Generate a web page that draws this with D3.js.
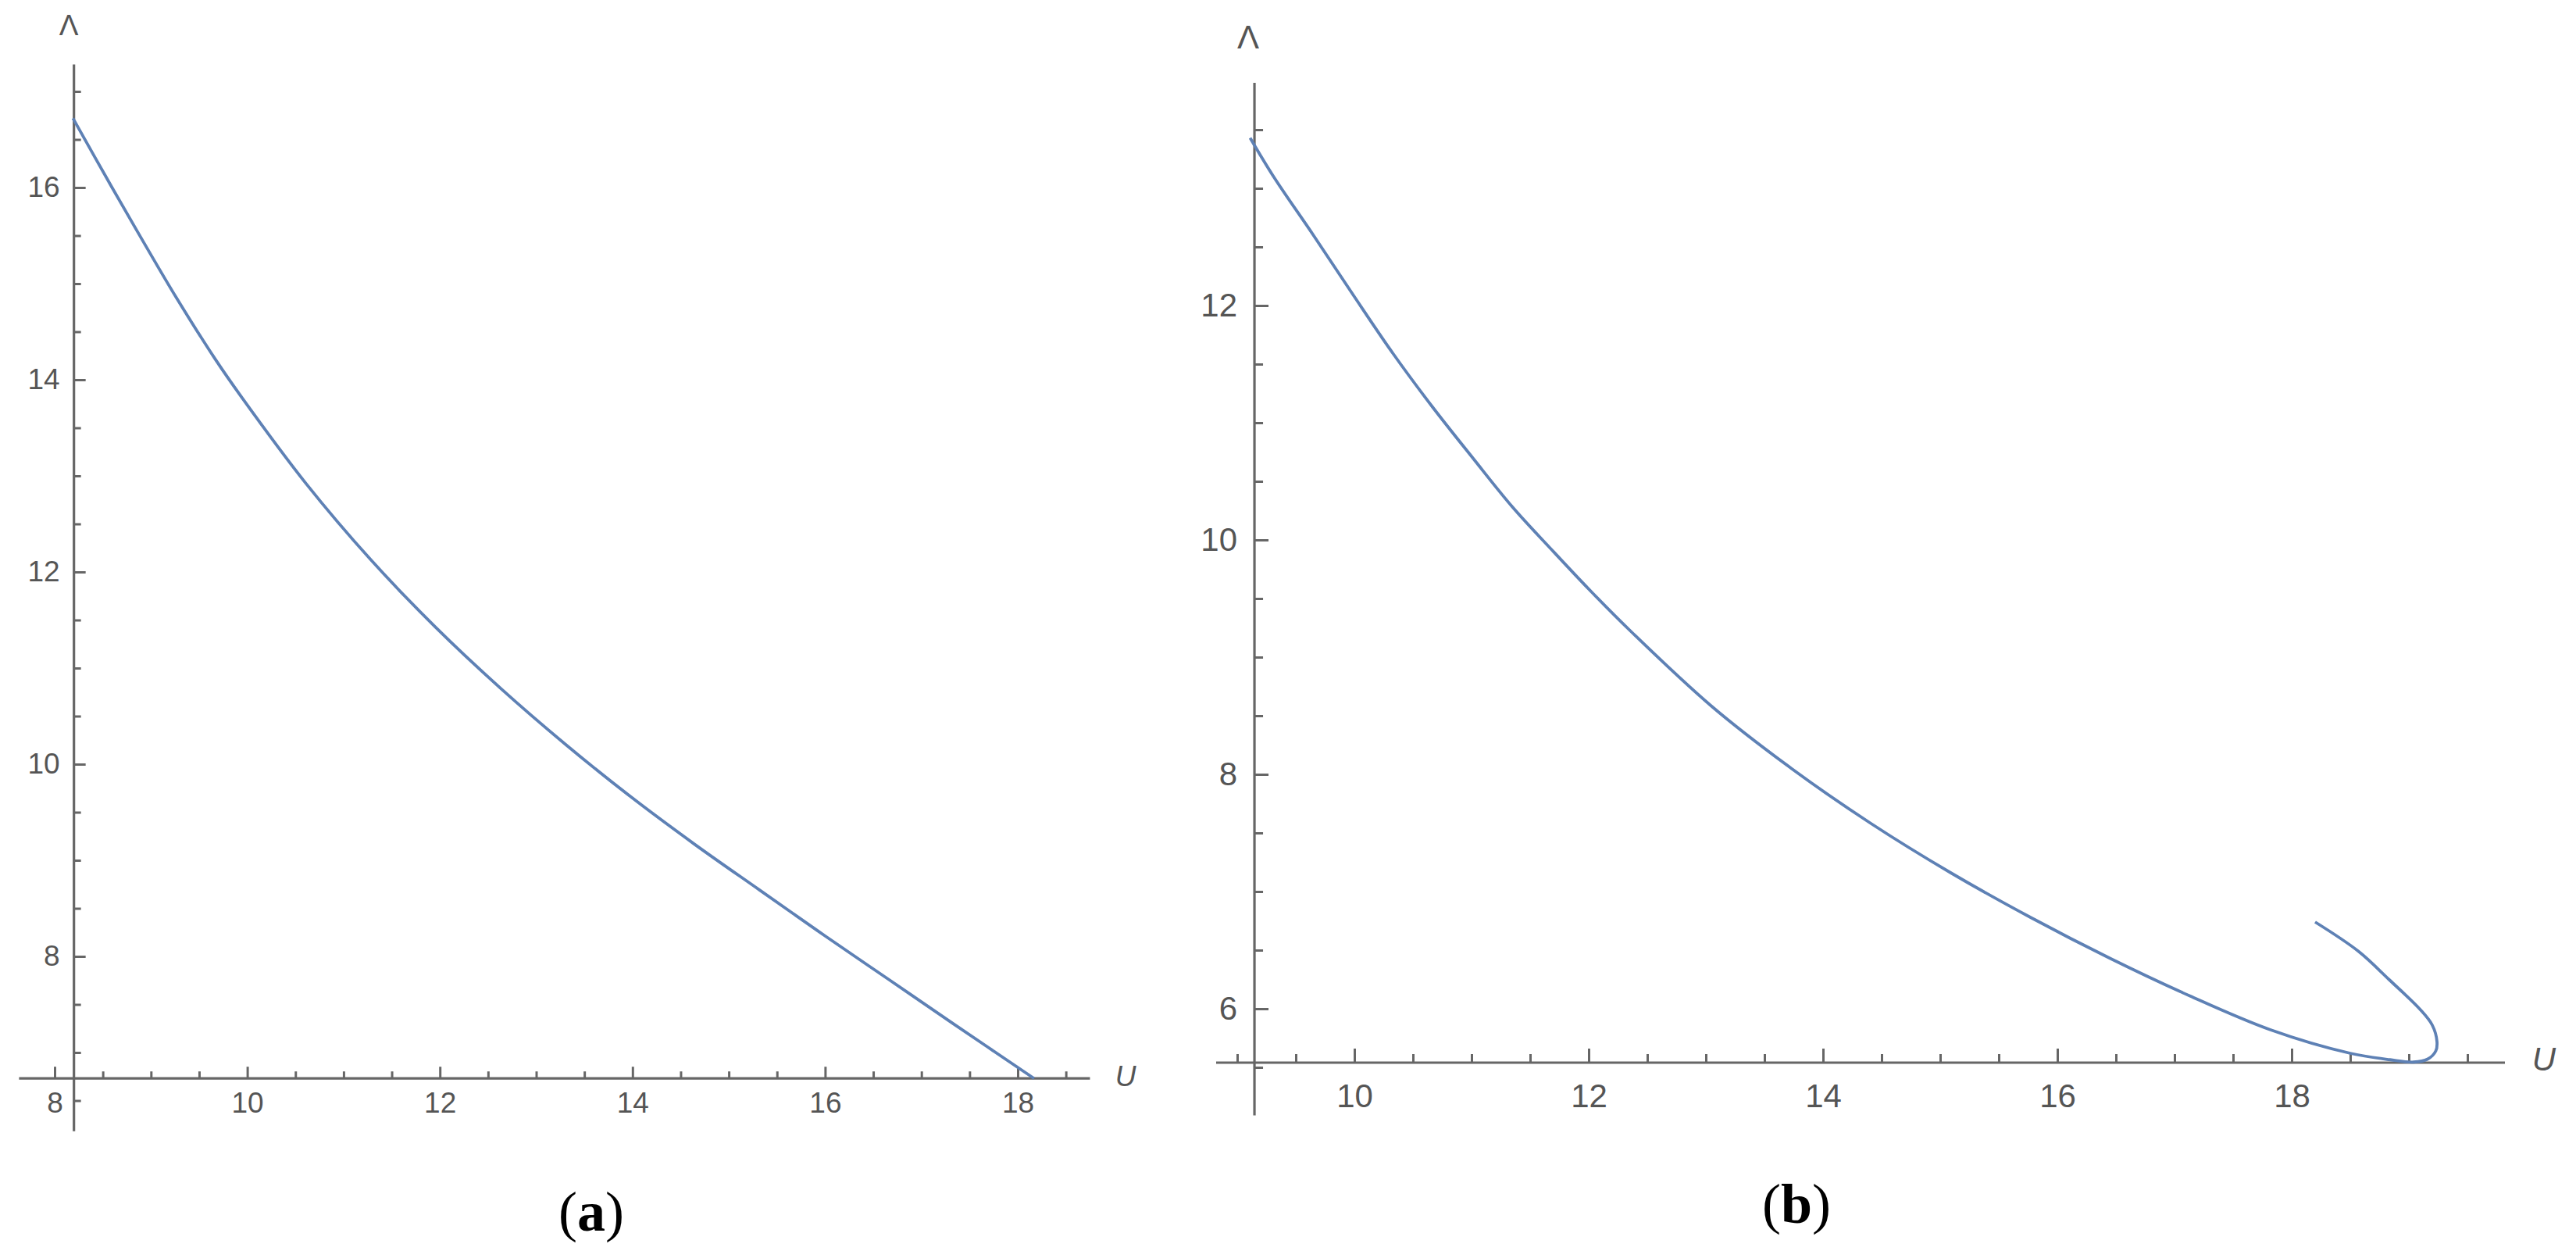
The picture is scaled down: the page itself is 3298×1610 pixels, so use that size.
<!DOCTYPE html>
<html><head><meta charset="utf-8">
<script src="https://cdn.jsdelivr.net/npm/d3@7"></script>
<style>body{margin:0;background:#fff}</style>
</head><body>
<svg id="c" width="3298" height="1610" xmlns="http://www.w3.org/2000/svg"></svg>
<script>
// ---- data ----
const leftU      = [8.19, 8.59, 8.93, 9.26, 9.67, 9.94, 10.61, 11.28, 11.95, 12.63, 13.30, 13.97, 14.64, 15.32, 15.99, 16.66, 17.33, 18.17];
const leftLambda = [16.72, 16.01, 15.42, 14.86, 14.21, 13.82, 12.92, 12.13, 11.43, 10.79, 10.21, 9.67, 9.17, 8.69, 8.22, 7.76, 7.30, 6.73];

const rightU      = [9.11, 9.31, 9.65, 9.99, 10.33, 10.67, 11.01, 11.35, 11.69, 12.03, 12.37, 13.05, 13.73, 14.41, 15.09, 15.77, 16.45, 17.13, 17.82, 18.50, 18.84, 19.04, 19.16, 19.23, 19.24, 19.20, 19.10, 18.83, 18.57, 18.20];
const rightLambda = [13.43, 13.10, 12.60, 12.09, 11.59, 11.13, 10.70, 10.28, 9.91, 9.55, 9.21, 8.58, 8.05, 7.58, 7.16, 6.78, 6.43, 6.11, 5.82, 5.62, 5.565, 5.545, 5.57, 5.64, 5.72, 5.86, 5.99, 6.25, 6.49, 6.74];

const leftXMajor  = [8, 10, 12, 14, 16, 18];
const leftXMinor  = [8.5, 9, 9.5, 10.5, 11, 11.5, 12.5, 13, 13.5, 14.5, 15, 15.5, 16.5, 17, 17.5, 18.5];
const leftYMajor  = [8, 10, 12, 14, 16];
const leftYMinor  = [6.5, 7, 7.5, 8.5, 9, 9.5, 10.5, 11, 11.5, 12.5, 13, 13.5, 14.5, 15, 15.5, 16.5, 17];

const rightXMajor = [10, 12, 14, 16, 18];
const rightXMinor = [9, 9.5, 10.5, 11, 11.5, 12.5, 13, 13.5, 14.5, 15, 15.5, 16.5, 17, 17.5, 18.5, 19, 19.5];
const rightYMajor = [6, 8, 10, 12];
const rightYMinor = [5.5, 6.5, 7, 7.5, 8.5, 9, 9.5, 10.5, 11, 11.5, 12.5, 13, 13.5];

const xLabel = "U";
const yLabel = "Λ";
const captions = ["a", "b"];

// ---- drawing ----
const svg = d3.select("#c");
svg.append("rect").attr("width", 3298).attr("height", 1610).attr("fill", "#fff");

const AXIS = "#666666", TEXT = "#555555", CURVE = "#5e81b5";
const FONT = "'Liberation Sans', Arial, sans-serif";

function panel(p) {
  const x = d3.scaleLinear().domain(p.xDom).range(p.xRange);
  const y = d3.scaleLinear().domain(p.yDom).range(p.yRange);
  const g = svg.append("g");
  const xAxisY = y(p.xAxisAt), yAxisX = x(p.yAxisAt);

  const style = s => {
    s.select(".domain").remove();
    s.selectAll(".tick line").attr("stroke", AXIS).attr("stroke-width", 3);
    s.selectAll("text").attr("fill", TEXT).attr("font-size", p.fs).attr("font-family", FONT);
  };

  // x axis
  g.append("g").attr("transform", `translate(0,${xAxisY})`)
    .call(d3.axisBottom(x).tickValues(p.xMinor).tickSize(-p.minorLen).tickFormat("")).call(style);
  g.append("g").attr("transform", `translate(0,${xAxisY})`)
    .call(d3.axisBottom(x).tickValues(p.xMajor).tickSize(-p.majorLen).tickPadding(p.xPad).tickFormat(d3.format("d"))).call(style);
  // y axis
  g.append("g").attr("transform", `translate(${yAxisX},0)`)
    .call(d3.axisLeft(y).tickValues(p.yMinor).tickSize(-p.minorLen).tickFormat("")).call(style);
  g.append("g").attr("transform", `translate(${yAxisX},0)`)
    .call(d3.axisLeft(y).tickValues(p.yMajor).tickSize(-p.majorLen).tickPadding(p.yPad).tickFormat(d3.format("d"))).call(style);

  // axis lines
  g.append("line").attr("x1", x(p.xExt[0])).attr("x2", x(p.xExt[1]))
    .attr("y1", xAxisY).attr("y2", xAxisY).attr("stroke", AXIS).attr("stroke-width", 3.2);
  g.append("line").attr("x1", yAxisX).attr("x2", yAxisX)
    .attr("y1", y(p.yExt[0])).attr("y2", y(p.yExt[1])).attr("stroke", AXIS).attr("stroke-width", 3.2);

  // curve
  const pts = p.u.map((u, i) => [u, p.l[i]]);
  g.append("path").datum(pts)
    .attr("d", d3.line().x(d => x(d[0])).y(d => y(d[1])).curve(d3.curveCatmullRom.alpha(0.5)))
    .attr("fill", "none").attr("stroke", CURVE).attr("stroke-width", 3.8)
    .attr("stroke-linejoin", "round");

  // axis labels
  g.append("text").attr("x", p.lamPos[0]).attr("y", p.lamPos[1]).attr("text-anchor", "middle")
    .attr("dominant-baseline", "central").attr("fill", TEXT).attr("font-family", FONT)
    .attr("font-size", p.fs).text(yLabel);
  g.append("text").attr("x", p.uPos[0]).attr("y", p.uPos[1]).attr("text-anchor", "middle")
    .attr("dominant-baseline", "central").attr("fill", TEXT).attr("font-family", FONT)
    .attr("font-style", "italic").attr("font-size", p.fs).text(xLabel);

  // caption
  const t = svg.append("text").attr("x", p.cap[0]).attr("y", p.cap[1]).attr("text-anchor", "middle")
    .attr("font-family", "'Liberation Serif', 'Times New Roman', serif").attr("font-size", 72).attr("fill", "#000");
  t.append("tspan").text("(");
  t.append("tspan").attr("font-weight", "bold").text(p.caption);
  t.append("tspan").text(")");
}

panel({
  xDom: [8, 18], xRange: [70, 1303], yDom: [8, 16], yRange: [1224, 240],
  xAxisAt: 6.73, yAxisAt: 8.2, xExt: [7.63, 18.75], yExt: [6.18, 17.28],
  xMajor: leftXMajor, xMinor: leftXMinor, yMajor: leftYMajor, yMinor: leftYMinor,
  majorLen: 15, minorLen: 9, xPad: 18, yPad: 18, fs: 37,
  u: leftU, l: leftLambda,
  lamPos: [88, 32], uPos: [1441, 1377], cap: [757, 1575], caption: captions[0]
});

panel({
  xDom: [10, 18], xRange: [1734, 2934], yDom: [6, 12], yRange: [1291, 391],
  xAxisAt: 5.54, yAxisAt: 9.147, xExt: [8.82, 19.82], yExt: [5.09, 13.9],
  xMajor: rightXMajor, xMinor: rightXMinor, yMajor: rightYMajor, yMinor: rightYMinor,
  majorLen: 18, minorLen: 11, xPad: 27, yPad: 22, fs: 42,
  u: rightU, l: rightLambda,
  lamPos: [1598, 47], uPos: [3257, 1355], cap: [2300, 1565], caption: captions[1]
});
</script>
</body></html>
